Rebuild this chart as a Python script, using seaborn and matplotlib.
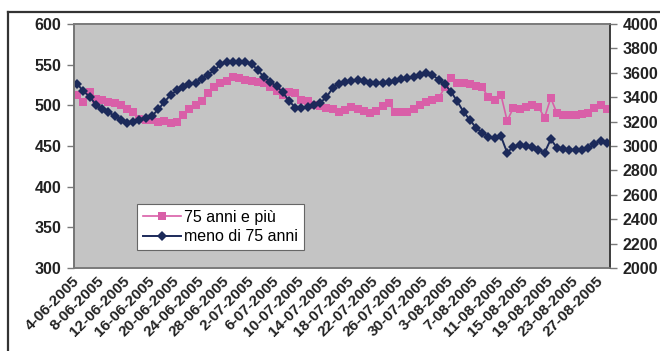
import matplotlib
matplotlib.use("Agg")
import matplotlib.pyplot as plt
from matplotlib.lines import Line2D
import seaborn as sns
import pandas as pd
import numpy as np

# Daily categories, 4 June - 28 August 2005
dates = pd.date_range("2005-06-04", "2005-08-28", freq="D")
date_labels = [f"{d.day}-{d.month:02d}-{d.year}" for d in dates]

# Left axis: 75 anni e più
anziani = [513, 504, 517, 508, 506, 504, 503, 500, 496, 492,
           483, 482, 482, 480, 481, 478, 480, 488, 495, 500,
           505, 515, 522, 528, 530, 535, 534, 531, 530, 529,
           527, 523, 518, 513, 517, 515, 507, 505, 500, 499,
           497, 496, 492, 494, 498, 496, 493, 491, 493, 499,
           503, 492, 492, 492, 496, 500, 504, 506, 509, 522,
           533, 528, 527, 526, 524, 522, 510, 507, 513, 481,
           497, 495, 498, 501, 498, 485, 509, 490, 488, 488,
           488, 489, 490, 497, 501, 496]

# Right axis: meno di 75 anni
giovani = [3510, 3450, 3405, 3340, 3300, 3275, 3250, 3215, 3185, 3197,
           3210, 3228, 3245, 3300, 3360, 3420, 3455, 3480, 3505, 3520,
           3550, 3585, 3620, 3670, 3688, 3690, 3690, 3685, 3675, 3620,
           3565, 3525, 3490, 3440, 3370, 3315, 3310, 3318, 3340, 3355,
           3400, 3475, 3512, 3525, 3535, 3540, 3530, 3520, 3515, 3520,
           3525, 3535, 3550, 3557, 3565, 3580, 3595, 3582, 3545, 3505,
           3445, 3365, 3280, 3215, 3150, 3108, 3075, 3066, 3080, 2945,
           2995, 3008, 3000, 2990, 2970, 2945, 3055, 2985, 2975, 2968,
           2970, 2965, 2980, 3020, 3045, 3025]

label_old = "75 anni e più"
label_young = "meno di 75 anni"

df = pd.DataFrame({"pos": np.arange(len(dates)),
                   "anziani": anziani,
                   "giovani": giovani})

plt.rcParams["font.family"] = ["Liberation Sans", "DejaVu Sans"]
plt.rcParams["font.size"] = 11.5

PINK = "#d95fa8"
NAVY = "#1c2a5a"
AXIS_GRAY = "#7a7a7a"

fig = plt.figure(figsize=(6.6, 3.51), dpi=100, facecolor="white")
ax = fig.add_axes([74 / 660, 1 - 268 / 351, 536 / 660, 244 / 351])
ax.set_facecolor("#c4c4c4")

sns.lineplot(data=df, x="pos", y="anziani", ax=ax, color=PINK,
             marker="s", markersize=5.5, markeredgewidth=0,
             linewidth=1.2, legend=False)

ax2 = ax.twinx()
sns.lineplot(data=df, x="pos", y="giovani", ax=ax2, color=NAVY,
             marker="D", markersize=5, markeredgewidth=0,
             linewidth=1.4, legend=False)

ax.set_xlim(-0.5, len(dates) - 0.5)
ax.set_ylim(300, 600)
ax.set_yticks(range(300, 601, 50))
ax2.set_ylim(2000, 4000)
ax2.set_yticks(range(2000, 4001, 200))

tick_pos = list(range(0, len(dates), 4))
ax.set_xticks(tick_pos)
ax.set_xticklabels([date_labels[i] for i in tick_pos], rotation=45,
                   ha="right", va="center", rotation_mode="anchor",
                   fontweight="bold", fontsize=11)
for a in (ax, ax2):
    a.set_xlabel("")
    a.set_ylabel("")

ax.tick_params(axis="x", length=0, pad=8)
ax.tick_params(axis="y", length=5, width=1, color=AXIS_GRAY, pad=4,
               labelsize=11.5)
ax2.tick_params(axis="y", length=5, width=1, color=AXIS_GRAY, pad=4,
                labelsize=11.5)
for lab in ax.get_yticklabels() + ax2.get_yticklabels():
    lab.set_fontweight("bold")
    lab.set_color("#222222")
for lab in ax.get_xticklabels():
    lab.set_color("#222222")

for a in (ax, ax2):
    for side, sp in a.spines.items():
        sp.set_color(AXIS_GRAY)
        sp.set_linewidth(1.2)
ax2.spines["right"].set_color("#333333")
ax.spines["left"].set_color("#555555")

handles = [
    Line2D([], [], color=PINK, marker="s", markersize=5.5,
           markeredgewidth=0, linewidth=1.2),
    Line2D([], [], color=NAVY, marker="D", markersize=5,
           markeredgewidth=0, linewidth=1.4),
]
leg = ax2.legend(handles, [label_old, label_young], loc="lower left",
                 bbox_to_anchor=((137 - 74) / 536, (268 - 250) / 244),
                 borderaxespad=0, frameon=True, fancybox=False,
                 framealpha=1, edgecolor="#666666", fontsize=11.5,
                 handlelength=2.4, handletextpad=0.2, borderpad=0.35,
                 labelspacing=0.3)
leg.get_frame().set_linewidth(0.8)

# chart-area border (top and left edges)
fig.add_artist(Line2D([8 / 660, 8 / 660], [0, 1 - 12 / 351],
                      transform=fig.transFigure, color="#333333",
                      linewidth=1.6))
fig.add_artist(Line2D([8 / 660, 1], [1 - 12 / 351, 1 - 12 / 351],
                      transform=fig.transFigure, color="#333333",
                      linewidth=1.6))

fig.savefig("out.png", dpi=100, facecolor="white")
